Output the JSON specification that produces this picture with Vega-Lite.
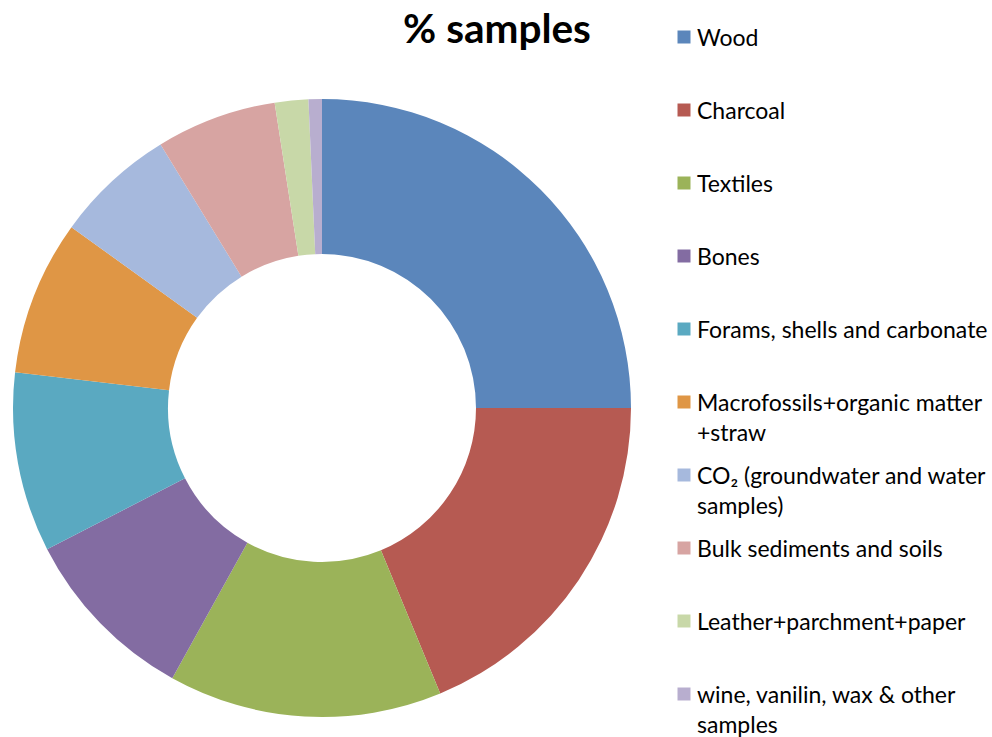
{
  "$schema": "https://vega.github.io/schema/vega-lite/v6.json",
  "padding": {"left": 0, "top": 10, "right": 0, "bottom": 0},
  "config": {"view": {"stroke": null}, "font": "Lato"},
  "datasets": {
    "samples": [
      {"order": 1, "category": "Wood", "label": "Wood", "pct": 25.0},
      {"order": 2, "category": "Charcoal", "label": "Charcoal", "pct": 18.75},
      {"order": 3, "category": "Textiles", "label": "Textiles", "pct": 14.3},
      {"order": 4, "category": "Bones", "label": "Bones", "pct": 9.4},
      {"order": 5, "category": "Forams, shells and carbonate", "label": "Forams, shells and carbonate", "pct": 9.4},
      {"order": 6, "category": "Macrofossils+organic matter +straw", "label": "Macrofossils+organic matter\n+straw", "pct": 8.1},
      {"order": 7, "category": "CO₂ (groundwater and water samples)", "label": "CO₂ (groundwater and water\nsamples)", "pct": 6.3},
      {"order": 8, "category": "Bulk sediments and soils", "label": "Bulk sediments and soils", "pct": 6.3},
      {"order": 9, "category": "Leather+parchment+paper", "label": "Leather+parchment+paper", "pct": 1.75},
      {"order": 10, "category": "wine, vanilin, wax & other samples", "label": "wine, vanilin, wax & other\nsamples", "pct": 0.7}
    ]
  },
  "hconcat": [
    {
      "title": {"text": "% samples", "fontSize": 40.5, "fontWeight": "bold", "font": "Lato", "color": "#000000", "anchor": "middle", "dx": 175, "offset": 47},
      "width": 644,
      "height": 620,
      "data": {"name": "samples"},
      "mark": {"type": "arc", "outerRadius": 309, "innerRadius": 154},
      "encoding": {
        "theta": {"field": "pct", "type": "quantitative", "stack": true},
        "order": {"field": "order", "type": "quantitative", "sort": "ascending"},
        "color": {
          "field": "category", "type": "nominal", "legend": null,
          "scale": {
            "domain": ["Wood", "Charcoal", "Textiles", "Bones", "Forams, shells and carbonate", "Macrofossils+organic matter +straw", "CO₂ (groundwater and water samples)", "Bulk sediments and soils", "Leather+parchment+paper", "wine, vanilin, wax & other samples"],
            "range": ["#5B86BB", "#B65A52", "#9BB359", "#836CA2", "#5AA9C1", "#DF9645", "#A6B9DD", "#D7A4A2", "#C8D8A8", "#B8AECF"]
          }
        }
      }
    },
    {
      "width": 14,
      "height": 620,
      "data": {"name": "samples"},
      "encoding": {
        "y": {"field": "category", "type": "nominal", "axis": null, "sort": {"field": "order"}, "scale": {"type": "point", "padding": 0, "range": [-61, 596]}}
      },
      "layer": [
        {
          "mark": {"type": "point", "shape": "square", "size": 169, "filled": true, "opacity": 1, "strokeWidth": 0},
          "encoding": {
            "color": {
              "field": "category", "type": "nominal", "legend": null,
              "scale": {
                "domain": ["Wood", "Charcoal", "Textiles", "Bones", "Forams, shells and carbonate", "Macrofossils+organic matter +straw", "CO₂ (groundwater and water samples)", "Bulk sediments and soils", "Leather+parchment+paper", "wine, vanilin, wax & other samples"],
                "range": ["#5B86BB", "#B65A52", "#9BB359", "#836CA2", "#5AA9C1", "#DF9645", "#A6B9DD", "#D7A4A2", "#C8D8A8", "#B8AECF"]
              }
            }
          }
        },
        {
          "mark": {"type": "text", "align": "left", "baseline": "alphabetic", "dx": 13, "dy": 9, "fontSize": 23, "font": "Lato", "color": "#000000", "lineBreak": "\n", "lineHeight": 30},
          "encoding": {"text": {"field": "label"}}
        }
      ]
    }
  ],
  "spacing": 33
}
